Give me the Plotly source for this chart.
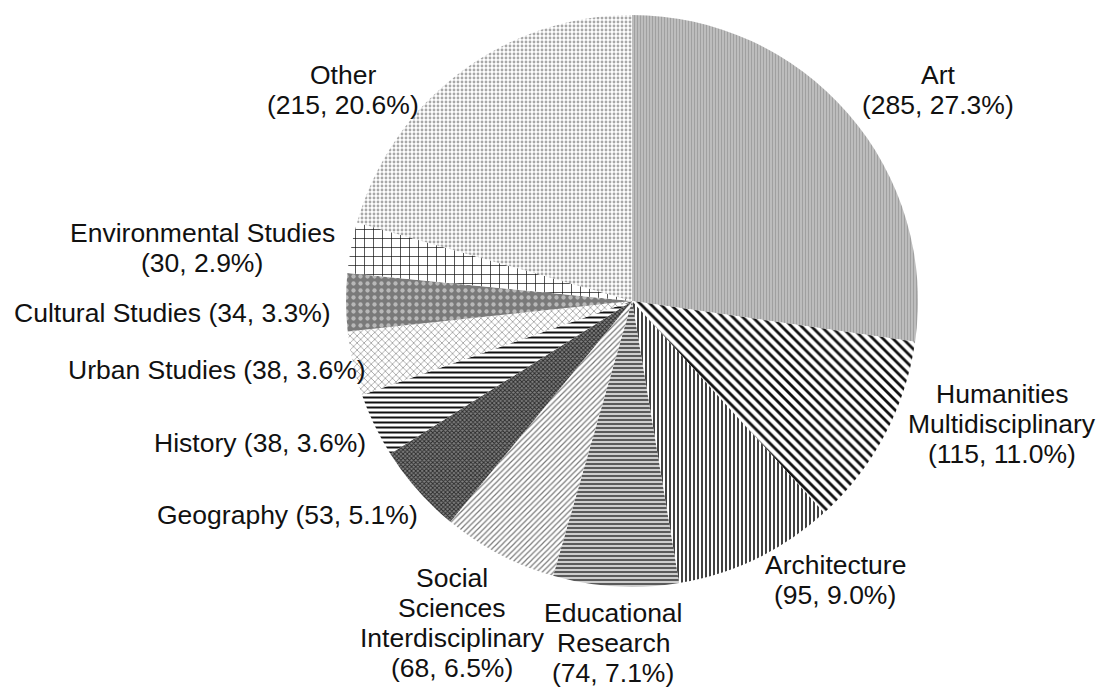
import plotly.graph_objects as go

# Subject categories, record counts and share labels
categories = [
    "Art", "Humanities Multidisciplinary", "Architecture", "Educational Research",
    "Social Sciences Interdisciplinary", "Geography", "History", "Urban Studies",
    "Cultural Studies", "Environmental Studies", "Other",
]
counts = [285, 115, 95, 74, 68, 53, 38, 38, 34, 30, 215]
shares = ["27.3%", "11.0%", "9.0%", "7.1%", "6.5%", "5.1%", "3.6%", "3.6%", "3.3%", "2.9%", "20.6%"]
# how each category name is broken across label lines
name_lines = [
    ["Art"], ["Humanities", "Multidisciplinary"], ["Architecture"], ["Educational", "Research"],
    ["Social", "Sciences", "Interdisciplinary"], ["Geography"], ["History"], ["Urban Studies"],
    ["Cultural Studies"], ["Environmental Studies"], ["Other"],
]
# True: "name (n, %)" on one line; False: figures on their own line
single_line = [False, False, False, False, False, True, True, True, True, False, False]

# Fill styles per slice: (shape, fg, bg, size, solidity)
patterns = [
    ("|", "#a0a0a0", "#c0c0c0", 3, 0.4),
    ("\\", "#111111", "#ffffff", 7, 0.4),
    ("|", "#111111", "#ffffff", 4, 0.4),
    ("-", "#ffffff", "#5a5a5a", 4, 0.35),
    ("/", "#7a7a7a", "#ffffff", 4, 0.3),
    ("x", "#2a2a2a", "#808080", 3, 0.5),
    ("-", "#111111", "#ffffff", 5, 0.4),
    ("x", "#8a8a8a", "#ffffff", 5, 0.25),
    (".", "#b8b8b8", "#7a7a7a", 7, 0.3),
    ("+", "#111111", "#ffffff", 9, 0.15),
    (".", "#a8a8a8", "#ffffff", 4, 0.4),
]

# Label layout (pixels in a 1101x690 canvas): x, y of first line, alignment
W, H = 1101, 690
LINE_GAP = 30
label_anchor = [
    (938, 75, "center"),
    (1002, 394, "center"),
    (835, 565, "center"),
    (613, 613, "center"),
    (452, 578, "center"),
    (420, 515, "right"),
    (368, 443, "right"),
    (368, 370, "right"),
    (333, 313, "right"),
    (202, 233, "center"),
    (343, 75, "center"),
]

fig = go.Figure(
    go.Pie(
        labels=categories,
        values=counts,
        textinfo="none",
        sort=False,
        direction="clockwise",
        rotation=0,
        marker=dict(
            colors=[p[2] for p in patterns],
            line=dict(width=0),
            pattern=dict(
                shape=[p[0] for p in patterns],
                fgcolor=[p[1] for p in patterns],
                bgcolor=[p[2] for p in patterns],
                size=[p[3] for p in patterns],
                solidity=[p[4] for p in patterns],
            ),
        ),
        domain=dict(x=[0.3143, 0.8338], y=[0.1493, 0.9783]),
        showlegend=False,
        hoverinfo="label+value+percent",
    )
)

label_font = dict(family="Liberation Sans, Arial, sans-serif", size=26.5, color="#111111")
annotations = []
for lines, n, s, one, (ax, ay, align) in zip(name_lines, counts, shares, single_line, label_anchor):
    figures = f"({n}, {s})"
    rows = [f"{lines[0]} {figures}"] if one else lines + [figures]
    anchor = "right" if align == "right" else "center"
    for i, row in enumerate(rows):
        annotations.append(dict(
            x=ax / W, y=1 - (ay + i * LINE_GAP) / H, xref="paper", yref="paper",
            text=row, showarrow=False, xanchor=anchor, yanchor="middle",
            font=label_font,
        ))

fig.update_layout(
    width=W,
    height=H,
    margin=dict(l=0, r=0, t=0, b=0),
    paper_bgcolor="white",
    plot_bgcolor="white",
    annotations=annotations,
)

fig.write_html("out.html")
